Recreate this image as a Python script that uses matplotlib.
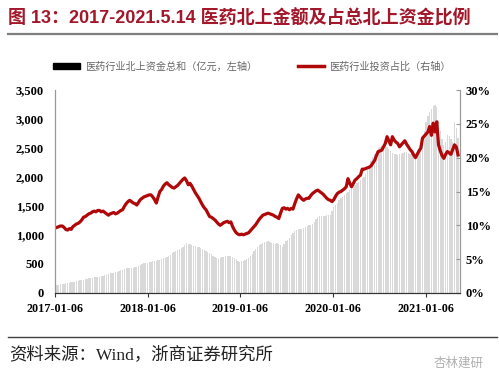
import matplotlib
matplotlib.use('Agg')
import matplotlib.pyplot as plt
import matplotlib.lines as mlines
import matplotlib.patches as mpatches
import numpy as np
import pandas as pd

# weekly data, 2017-01-06 .. 2021-05-14
dates = pd.date_range('2017-01-06', '2021-05-14', freq='7D')

# 医药行业北上资金总和（亿元）
north_amount = [
    138, 140, 145, 150, 155, 160, 165, 170, 178, 185,
    190, 195, 205, 212, 224, 228, 232, 240, 245, 250,
    255, 262, 268, 272, 276, 281, 288, 295, 305, 318,
    330, 340, 345, 350, 360, 368, 378, 390, 405, 415,
    428, 437, 430, 425, 425, 440, 455, 470, 490, 505,
    512, 520, 525, 535, 540, 545, 550, 555, 562, 569,
    580, 595, 610, 626, 640, 660, 685, 705, 725, 741,
    760, 780, 799, 830, 856, 850, 838, 825, 815, 805,
    799, 790, 775, 760, 745, 730, 712, 690, 670, 640,
    615, 598, 585, 600, 615, 625, 632, 638, 640, 630,
    626, 610, 590, 560, 540, 545, 555, 565, 581, 600,
    640, 680, 720, 760, 799, 820, 840, 860, 875, 885,
    890, 880, 870, 860, 850, 856, 840, 820, 799, 850,
    890, 914, 950, 1000, 1040, 1070, 1086, 1095, 1100, 1110,
    1120, 1140, 1150, 1165, 1172, 1190, 1230, 1280, 1316, 1320,
    1325, 1330, 1335, 1340, 1345, 1345, 1420, 1488, 1520, 1560,
    1600, 1630, 1660, 1690, 1720, 1750, 1780, 1810, 1833, 1860,
    1890, 1920, 1950, 1980, 2005, 2050, 2120, 2200, 2280, 2350,
    2400, 2450, 2500, 2522, 2530, 2540, 2530, 2522, 2490, 2450,
    2420, 2400, 2390, 2379, 2390, 2400, 2410, 2425, 2436, 2420,
    2400, 2390, 2380, 2395, 2408, 2450, 2560, 2694, 2800, 2950,
    3050, 3125, 3180, 3220, 3241, 3200, 2982, 2800, 2650, 2551,
    2600, 2724, 2700, 2650, 2608, 2953, 2850, 2666,
]

# 医药行业投资占比（%）
pharma_share = [
    9.6, 9.7, 9.8, 9.9, 9.9, 9.7, 9.4, 9.3, 9.5, 9.4,
    9.8, 10.0, 10.2, 10.3, 10.5, 10.8, 11.2, 11.3, 11.5, 11.7,
    11.8, 12.0, 12.1, 12.0, 12.2, 12.2, 12.0, 12.1, 11.9, 11.7,
    11.5, 11.7, 11.8, 11.9, 11.7, 11.8, 12.0, 12.2, 12.3, 12.8,
    13.2, 13.5, 13.7, 13.5, 13.3, 13.2, 13.0, 13.4, 13.8, 14.0,
    14.2, 14.3, 14.4, 14.5, 14.5, 14.2, 13.8, 13.3, 14.2, 15.0,
    15.3, 15.8, 16.1, 16.3, 16.0, 15.8, 15.6, 15.5, 15.7, 15.9,
    16.2, 16.5, 16.8, 17.0, 16.6, 16.0, 16.2, 15.8, 15.3, 14.8,
    14.4, 14.0, 13.5, 13.0, 12.6, 12.3, 11.8, 11.3, 11.2, 11.0,
    10.8, 10.5, 10.2, 10.0, 10.2, 10.4, 10.5, 10.6, 10.4, 10.5,
    9.8, 9.3, 8.9, 8.7, 8.6, 8.7, 8.6, 8.7, 8.8, 8.9,
    9.2, 9.5, 9.8, 10.1, 10.5, 10.9, 11.2, 11.5, 11.6, 11.7,
    11.8, 11.7, 11.6, 11.5, 11.3, 11.2, 11.0, 11.8, 12.5, 12.6,
    12.4, 12.5, 12.3, 12.5, 12.4, 13.2, 13.9, 14.5, 14.2, 13.9,
    13.7, 13.9, 14.0, 14.0, 14.4, 14.7, 14.9, 15.1, 15.2, 15.0,
    14.8, 14.6, 14.3, 14.0, 13.8, 13.7, 13.5, 13.8, 14.3, 14.7,
    14.9, 15.0, 15.2, 15.4, 15.7, 16.9, 16.2, 15.7, 16.2, 16.7,
    16.9, 17.2, 17.4, 18.3, 18.3, 18.4, 18.5, 18.6, 18.8, 19.2,
    19.6, 20.3, 20.9, 21.0, 21.1, 21.6, 22.1, 23.1, 22.5, 21.9,
    23.1, 22.6, 22.3, 22.1, 21.6, 21.9, 22.2, 22.5, 22.0, 21.6,
    21.2, 20.9, 20.4, 20.0, 20.5, 21.0, 21.4, 22.9, 23.2, 23.5,
    23.8, 24.6, 23.3, 25.1, 23.8, 25.3, 21.9, 21.0, 20.3, 19.9,
    20.5, 20.9, 20.7, 20.5, 21.2, 21.9, 21.6, 20.4,
]

xtick_labels = ['2017-01-06', '2018-01-06', '2019-01-06', '2020-01-06', '2021-01-06']
left_ticks = [0, 500, 1000, 1500, 2000, 2500, 3000, 3500]
right_ticks = [0, 5, 10, 15, 20, 25, 30]

title = '图 13：2017-2021.5.14 医药北上金额及占总北上资金比例'
legend_bar = '医药行业北上资金总和（亿元，左轴）'
legend_line = '医药行业投资占比（右轴）'
source = '资料来源：Wind，浙商证券研究所'

cjk = ['Noto Sans CJK SC', 'DejaVu Sans']
tick_font = dict(family='Liberation Serif', weight='bold', size=9)
red = '#b00808'
title_red = '#a3172b'

fig = plt.figure(figsize=(4.99, 3.83), dpi=100)
ax1 = fig.add_axes([0.110, 0.235, 0.812, 0.530])
ax2 = ax1.twinx()

ax1.bar(dates, north_amount, width=5, color='#d9d9d9', linewidth=0)
ax2.plot(dates, pharma_share, color=red, linewidth=2.3)

ax1.set_zorder(1)
ax2.set_zorder(2)
ax1.patch.set_visible(False)

ax1.set_ylim(0, 3500)
ax2.set_ylim(0, 30)
ax1.set_xlim(dates[0] - pd.Timedelta(days=1), dates[-1] + pd.Timedelta(days=8))

ax1.set_yticks(left_ticks)
ax1.set_yticklabels(['{:,}'.format(v) for v in left_ticks], fontdict=tick_font)
ax2.set_yticks(right_ticks)
ax2.set_yticklabels(['{}%'.format(v) for v in right_ticks], fontdict=tick_font)
ax1.set_xticks(pd.to_datetime(xtick_labels))
ax1.set_xticklabels(xtick_labels, fontdict=dict(tick_font, size=8.7))

for a in (ax1, ax2):
    a.spines['top'].set_visible(False)
    a.spines['left'].set_color('#999999')
    a.spines['right'].set_color('#999999')
    a.spines['bottom'].set_color('#333333')
ax1.tick_params(axis='y', length=0, pad=8)
ax2.tick_params(axis='y', direction='in', length=3, color='#999999', pad=4)
ax1.tick_params(axis='x', length=3, pad=4, color='#333333')

# legend above plot
h_bar = mpatches.Patch(color='black')
h_line = mlines.Line2D([], [], color=red, linewidth=2.5)
leg = fig.legend([h_bar, h_line], [legend_bar, legend_line], loc='center',
                 bbox_to_anchor=(0.505, 0.826), ncol=2, frameon=False,
                 prop={'family': cjk, 'size': 7.3}, handlelength=2.6,
                 handleheight=0.5, columnspacing=4.0, handletextpad=0.5)
for t in leg.get_texts():
    t.set_color('#666666')

# title, rules, source
fig.text(0.016, 0.953, title, fontsize=13, fontweight='bold', color=title_red,
         family=['Liberation Sans', 'Noto Sans CJK SC'], va='center')
fig.add_artist(mlines.Line2D([0.016, 0.996], [0.910, 0.910], color='#7f7f7f', linewidth=1.6))
fig.add_artist(mlines.Line2D([0.016, 0.996], [0.120, 0.120], color='#404040', linewidth=1.0))
fig.text(0.018, 0.075, source, fontsize=12.5, color='#222222',
         family=['Liberation Serif', 'Noto Sans CJK SC'], va='center')
fig.text(0.970, 0.052, '杏林建研', fontsize=9, color='#b0b0b0',
         family=cjk, va='center', ha='right')

plt.savefig('out.png', dpi=100)
